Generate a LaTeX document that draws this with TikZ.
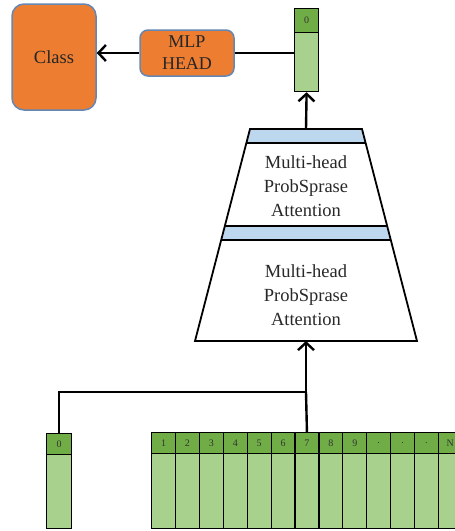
\documentclass[tikz,border=0pt]{standalone}
\usepackage{fontspec}
\setmainfont{Liberation Serif}
\usetikzlibrary{arrows.meta}
\definecolor{hdr}{RGB}{112,173,71}
\definecolor{bdy}{RGB}{169,209,142}
\definecolor{stripc}{RGB}{189,215,238}
\definecolor{org}{RGB}{237,125,49}
\definecolor{obrd}{RGB}{100,135,180}
\definecolor{txt}{RGB}{40,40,40}
\begin{document}
\begin{tikzpicture}[x=1pt,y=-1pt,
  orangebox/.style={draw=obrd, line width=1.5pt, fill=org, rounded corners=#1, inner sep=0pt, text=black!85, align=center},
  hcell/.style={draw, line width=1.2pt, fill=hdr, minimum width=23.9pt, minimum height=21pt, inner sep=0pt, anchor=north west, font=\fontsize{10}{11}\selectfont, text=black!80},
  bcell/.style={draw, line width=1.2pt, fill=bdy, minimum width=23.9pt, inner sep=0pt, anchor=north west},
  conn/.style={line width=2.4pt},
  arr/.style={conn, -{Straight Barb[length=7.5pt,width=16pt]}},
  layer/.style={draw, line width=1.8pt, line join=miter},
  attn/.style={align=center, text=txt, font=\fontsize{18.5}{24}\selectfont}
]
\path[use as bounding box] (0,0) rectangle (455,531);
\clip (0,0) rectangle (455,531);

% output side
\node[orangebox=12pt, minimum width=84pt, minimum height=106pt, font=\fontsize{18.5}{22}\selectfont] (cls) at (54,57) {Class};
\node[orangebox=8pt, minimum width=94pt, minimum height=46pt, font=\fontsize{18}{22}\selectfont] (mlp) at (187,53) {MLP\\HEAD};

% top token
\node[hcell, minimum width=24pt, minimum height=24pt] (t0h) at (294,8) {0};
\node[bcell, minimum width=24pt, minimum height=59pt] (t0b) at (294,32) {};

% trapezoid layers
\fill[stripc] (250,129) -- (362,129) -- (365.6,143) -- (246.4,143) -- cycle;
\fill[stripc] (224.8,226) -- (387.2,226) -- (390.8,240) -- (221.2,240) -- cycle;
\draw[layer] (250,129) -- (362,129) -- (417,341) -- (195,341) -- cycle;
\draw[layer] (246.4,143) -- (365.6,143);
\draw[layer] (224.8,226) -- (387.2,226);
\draw[layer] (221.2,240) -- (390.8,240);
\coordinate (ttop) at (306,129);
\coordinate (tbot) at (306,341);
\node[attn] (att1) at (306,186) {Multi-head\\ProbSprase\\Attention};
\node[attn] (att2) at (306,295) {Multi-head\\ProbSprase\\Attention};

% input tokens
\node[hcell, minimum width=25pt] (l0h) at (46,433) {0};
\node[bcell, minimum width=25pt, minimum height=74pt] (l0b) at (46,454) {};
\foreach \l [count=\i from 0] in {1,2,3,4,5,6,7,8,9,.,.,.,N} {
  \node[hcell] (h\i) at ({151+23.9*\i},432) {\l};
  \node[bcell, minimum height=75pt] (b\i) at ({151+23.9*\i},453) {};
}

% connectors
\coordinate (j) at (306,392);
\draw[conn] (h6.north) -- (j);
\draw[conn] (l0h.north) |- (j);
\draw[arr] (j) -- (tbot);
\draw[arr] (ttop) -- (t0b.south);
\draw[conn] (mlp.east) -- (mlp.east -| t0b.west);
\draw[arr] (mlp.west) -- (mlp.west -| cls.east);
\end{tikzpicture}
\end{document}
